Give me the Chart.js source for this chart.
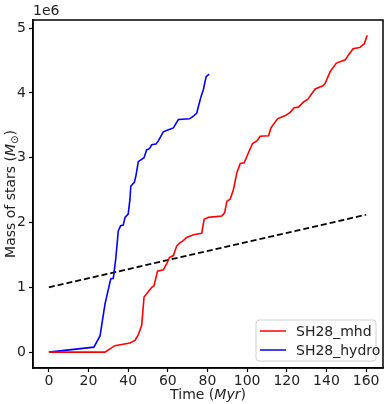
<!DOCTYPE html>
<html>
<head>
<meta charset="utf-8">
<script src="https://cdn.jsdelivr.net/npm/chart.js@4"></script>
<style>
  html, body { margin: 0; padding: 0; background: #fff; }
  #wrap { width: 387px; height: 404px; }
</style>
</head>
<body>
<div id="wrap"><canvas id="chart" width="387" height="404"></canvas></div>
<script>
// stellar mass in units of 1e6 Msun, time in Myr
const timeMhd = [0, 28.3, 33.3, 40.9, 43.4, 45, 46.8, 48, 49.3, 51.9, 53, 54.8, 57.7, 59.4, 60.8, 62.8, 64.5, 66.2, 67.8, 69.5, 72.9, 77.1, 78.3, 80.5, 87.2, 88.6, 89.8, 91.4, 93.1, 94.8, 96.5, 98.5, 100.7, 102.7, 104.9, 106.6, 110.8, 112, 115.3, 119.2, 121.7, 123.7, 125.9, 128.4, 130.5, 134.3, 138.2, 139.4, 141.9, 145, 149.5, 151.2, 153.4, 156.7, 159.1, 160.5];
const massMhd = [0, 0, 0.1, 0.14, 0.18, 0.26, 0.41, 0.85, 0.9, 1.0, 1.02, 1.25, 1.27, 1.36, 1.46, 1.49, 1.64, 1.69, 1.72, 1.77, 1.81, 1.835, 2.05, 2.08, 2.1, 2.15, 2.33, 2.36, 2.51, 2.77, 2.91, 2.92, 3.08, 3.22, 3.26, 3.33, 3.34, 3.46, 3.6, 3.65, 3.7, 3.77, 3.78, 3.86, 3.9, 4.06, 4.11, 4.15, 4.33, 4.46, 4.51, 4.59, 4.68, 4.7, 4.76, 4.89];

const timeHydro = [0, 22.7, 25.8, 28.3, 31.2, 32.5, 33.8, 35, 36.2, 37.5, 38.4, 40, 40.9, 41.3, 43.1, 43.9, 45.1, 48, 49.3, 50.7, 51.9, 54, 55.2, 57.7, 60.3, 62.8, 65.3, 70.9, 72.9, 74.6, 75.4, 76.8, 77.9, 79.3, 80.8];
const massHydro = [0, 0.077, 0.25, 0.74, 1.13, 1.14, 1.46, 1.87, 1.95, 1.96, 2.08, 2.13, 2.36, 2.56, 2.62, 2.72, 2.94, 3.0, 3.12, 3.14, 3.2, 3.21, 3.26, 3.4, 3.43, 3.46, 3.59, 3.6, 3.64, 3.69, 3.79, 3.95, 4.05, 4.25, 4.29];

const timeRef = [0, 160];
const massRef = [1.0, 2.12];

const xTicks = [0, 20, 40, 60, 80, 100, 120, 140, 160];
const yTicks = [0, 1, 2, 3, 4, 5];
const seriesLabels = ["SH28_mhd", "SH28_hydro"];

const FONT = "'DejaVu Sans', sans-serif";
const pts = (xs, ys) => xs.map((x, i) => ({ x, y: ys[i] }));

const frame = {
  id: "frame",
  afterDraw(chart) {
    const { ctx, chartArea: a } = chart;
    ctx.save();
    ctx.strokeStyle = "#000";
    ctx.lineWidth = 1.5;
    ctx.strokeRect(a.left, a.top, a.right - a.left, a.bottom - a.top);

    // offset text
    ctx.fillStyle = "#222";
    ctx.font = `14px ${FONT}`;
    ctx.textBaseline = "alphabetic";
    ctx.textAlign = "left";
    ctx.fillText("1e6", a.left, a.top - 5);

    // x title
    const xt = [["Time (", "normal"], ["Myr", "italic"], [")", "normal"]];
    let w = 0;
    for (const [t, s] of xt) { ctx.font = `${s} 14px ${FONT}`; w += ctx.measureText(t).width; }
    let x = (a.left + a.right) / 2 - w / 2;
    for (const [t, s] of xt) {
      ctx.font = `${s} 14px ${FONT}`;
      ctx.fillText(t, x, 399);
      x += ctx.measureText(t).width;
    }

    // y title
    ctx.translate(10, (a.top + a.bottom) / 2);
    ctx.rotate(-Math.PI / 2);
    const yt = [["Mass of stars (", "normal 14px", 0], ["M", "italic 14px", 0], ["\u2299", "normal 10px", 3], [")", "normal 14px", 0]];
    w = 0;
    for (const [t, f] of yt) { ctx.font = `${f} ${FONT}`; w += ctx.measureText(t).width; }
    x = -w / 2;
    for (const [t, f, dy] of yt) {
      ctx.font = `${f} ${FONT}`;
      ctx.fillText(t, x, 5 + dy);
      x += ctx.measureText(t).width;
    }
    ctx.setTransform(1, 0, 0, 1, 0, 0);

    // legend
    const bw = 120, bh = 41;
    const bx = a.right - 7 - bw, by = a.bottom - 7 - bh;
    ctx.beginPath();
    ctx.roundRect(bx, by, bw, bh, 3);
    ctx.fillStyle = "rgba(255,255,255,0.8)";
    ctx.fill();
    ctx.strokeStyle = "#d0d0d0";
    ctx.lineWidth = 1;
    ctx.stroke();
    const ds = chart.data.datasets;
    ctx.font = `14px ${FONT}`;
    ctx.textBaseline = "middle";
    seriesLabels.forEach((lab, i) => {
      const ly = by + 11 + i * 19;
      ctx.strokeStyle = ds[i].borderColor;
      ctx.lineWidth = 1.5;
      ctx.beginPath();
      ctx.moveTo(bx + 4, ly);
      ctx.lineTo(bx + 30, ly);
      ctx.stroke();
      ctx.fillStyle = "#222";
      ctx.fillText(lab, bx + 40, ly + 1);
    });
    ctx.restore();
  },
};

const axisCommon = {
  type: "linear",
  grid: { drawOnChartArea: false, drawTicks: true, tickLength: 4, color: "#000", tickWidth: 1.2 },
  border: { display: true, color: "#000", width: 1.5 },
  ticks: { color: "#222", font: { family: FONT, size: 14 }, padding: 3, autoSkip: false },
};

new Chart(document.getElementById("chart"), {
  type: "scatter",
  data: {
    datasets: [
      { label: seriesLabels[0], data: pts(timeMhd, massMhd), borderColor: "#ff0000", borderWidth: 1.6, showLine: true, pointRadius: 0, tension: 0 },
      { label: seriesLabels[1], data: pts(timeHydro, massHydro), borderColor: "#0000ff", borderWidth: 1.6, showLine: true, pointRadius: 0, tension: 0 },
      { label: "ref", data: pts(timeRef, massRef), borderColor: "#000", borderWidth: 1.8, borderDash: [6, 3], showLine: true, pointRadius: 0 },
    ],
  },
  options: {
    responsive: false,
    animation: false,
    layout: { padding: { left: 0, right: 4, top: 20, bottom: 0 } },
    plugins: { legend: { display: false }, tooltip: { enabled: false } },
    scales: {
      x: {
        ...axisCommon,
        ticks: { ...axisCommon.ticks, padding: 1 },
        min: -8, max: 168.5,
        afterBuildTicks: (s) => { s.ticks = xTicks.map((v) => ({ value: v })); },
        afterFit: (s) => { s.height = 36; },
      },
      y: {
        ...axisCommon,
        min: -0.245, max: 5.125,
        afterBuildTicks: (s) => { s.ticks = yTicks.map((v) => ({ value: v })); },
        afterFit: (s) => { s.width = 33; },
      },
    },
  },
  plugins: [frame],
});
</script>
</body>
</html>
